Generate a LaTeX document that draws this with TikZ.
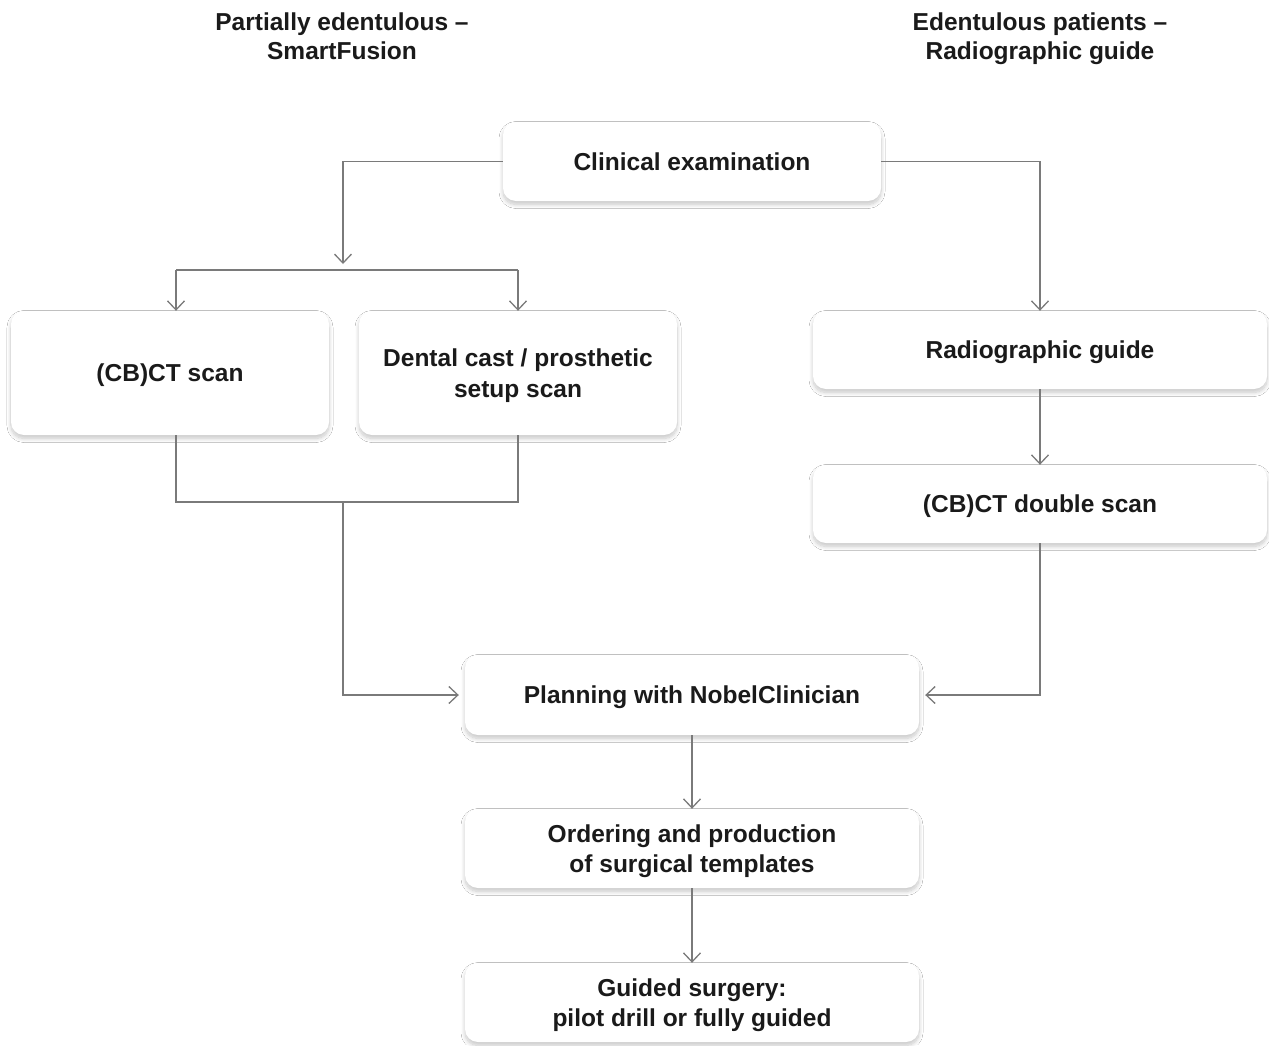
\documentclass[tikz,border=0pt]{standalone}
\usepackage{fontspec}
\setmainfont{Liberation Sans}
\usetikzlibrary{arrows.meta,shadows.blur}
\definecolor{linegrey}{HTML}{7A7A7A}
\definecolor{txt}{HTML}{1A1A1A}
\tikzset{
  box/.style={fill=white, draw=none, rounded corners=13pt, inner sep=0pt,
    align=center, text=txt, font=\fontsize{24.5pt}{30.5pt}\selectfont\bfseries,
    blur shadow={shadow xshift=0pt, shadow yshift=-3.5pt, shadow blur radius=4pt,
      shadow blur steps=10, shadow opacity=22}},
  oneline/.style={text height=23pt, text depth=5.5pt},
  twoline/.style={text height=50pt, text depth=1.5pt},
  head/.style={align=center, text=txt, font=\fontsize{24.5pt}{29pt}\selectfont\bfseries,
    text height=50pt, text depth=1.5pt},
  conn/.style={draw=linegrey, line width=1.3pt},
  arr/.style={conn, -{Straight Barb[length=9pt,width=17pt,line width=1.3pt]}}
}
\begin{document}
\begin{tikzpicture}[x=1pt,y=-1pt]
\useasboundingbox[fill=white] (0,0) rectangle (1269,1045);

\node[head] (hl) at (342,35) {Partially edentulous –\\SmartFusion};
\node[head] (hr) at (1040,35) {Edentulous patients –\\Radiographic guide};

\node[box, oneline, minimum width=378pt, minimum height=79pt] (clin) at (692,161.5) {Clinical examination};
\node[box, oneline, minimum width=318pt, minimum height=124pt] (cbct) at (170,373) {(CB)CT scan};
\node[box, twoline, minimum width=318pt, minimum height=124pt] (dent) at (518,373) {Dental cast / prosthetic\\setup scan};
\node[box, oneline, minimum width=454pt, minimum height=78pt] (radio) at (1040,350) {Radiographic guide};
\node[box, oneline, minimum width=454pt, minimum height=78pt] (dbl) at (1040,504) {(CB)CT double scan};
\node[box, oneline, minimum width=454pt, minimum height=80pt] (plan) at (692,695) {Planning with NobelClinician};
\node[box, twoline, minimum width=454pt, minimum height=79pt] (ord) at (692,848.5) {Ordering and production\\of surgical templates};
\node[box, twoline, minimum width=454pt, minimum height=79pt] (guid) at (692,1002.5) {Guided surgery:\\pilot drill or fully guided};

\coordinate (split) at (343,270);
\coordinate (splitL) at (176,270);
\coordinate (splitR) at (518,270);
\coordinate (joinL) at (176,502);
\coordinate (joinR) at (518,502);
\coordinate (join) at (343,502);

% left branch
\draw[arr, shorten >=6pt] (clin.west) -| (split);
\draw[conn] (splitL) -- (splitR);
\draw[arr] (splitL) -- (cbct.north -| splitL);
\draw[arr] (splitR) -- (dent.north -| splitR);
\draw[conn] (cbct.south -| joinL) -- (joinL) -- (joinR) -- (dent.south -| joinR);
\draw[arr, shorten >=6pt] (join) |- (plan.west);

% right branch
\draw[arr] (clin.east) -| (radio.north);
\draw[arr] (radio.south) -- (dbl.north);
\draw[arr, shorten >=6pt] (dbl.south) |- (plan.east);

% bottom chain
\draw[arr] (plan.south) -- (ord.north);
\draw[arr] (ord.south) -- (guid.north);
\end{tikzpicture}
\end{document}
